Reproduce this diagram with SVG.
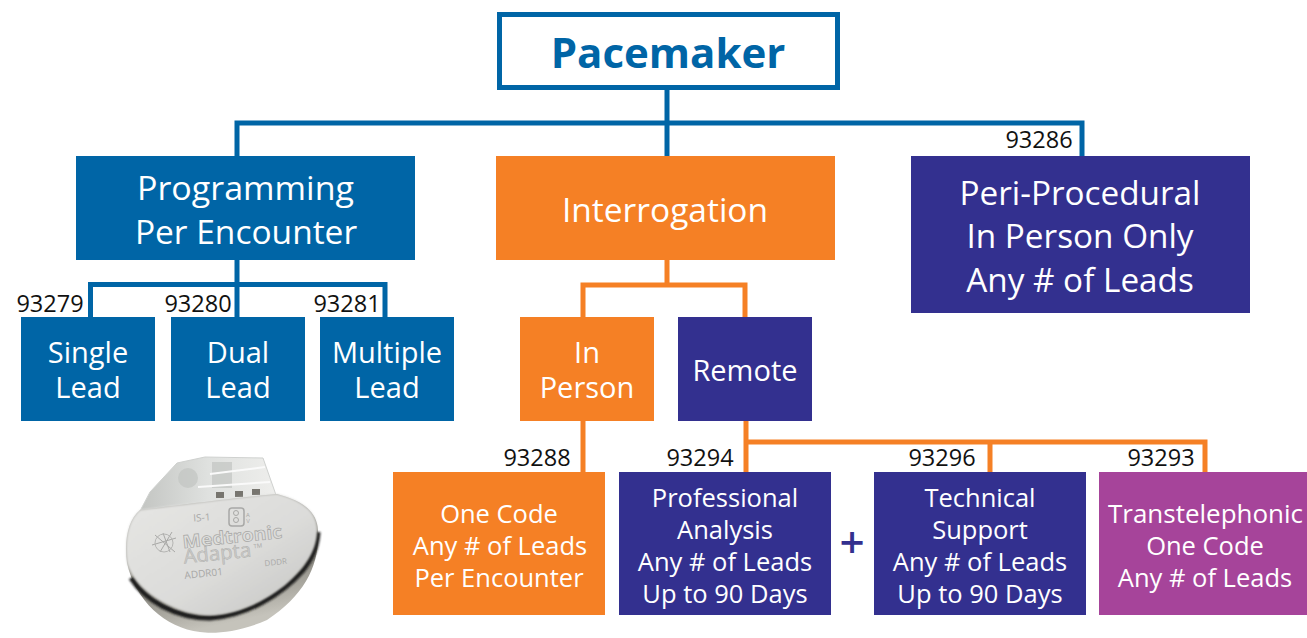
<svg xmlns="http://www.w3.org/2000/svg" width="1307" height="638" viewBox="0 0 1307 638">
<defs>
<linearGradient id="metal" x1="0" y1="0" x2="1" y2="1"><stop offset="0" stop-color="#e6e6e4"/><stop offset="0.55" stop-color="#dcdcda"/><stop offset="1" stop-color="#c4c4c2"/></linearGradient>
<linearGradient id="rim" x1="0" y1="0" x2="0.3" y2="1"><stop offset="0" stop-color="#b9b9b5"/><stop offset="0.7" stop-color="#8f8d85"/><stop offset="1" stop-color="#c5c3bb"/></linearGradient>
<linearGradient id="head" x1="0" y1="0" x2="1" y2="0"><stop offset="0" stop-color="#c3c5c2"/><stop offset="0.5" stop-color="#dfe1df"/><stop offset="1" stop-color="#eeeeec"/></linearGradient>
<filter id="soft" x="-10%" y="-10%" width="120%" height="120%"><feGaussianBlur stdDeviation="1"/></filter>
</defs>
<style>
text{font-family:"Open Sans","Noto Sans","Liberation Sans",sans-serif;text-anchor:middle;fill:#fff}
.l{font-size:33.500px}.x{font-size:33.300px}.s{font-size:29px}.t{font-size:25.500px}
.b{fill:#0065a6}.o{fill:#f58025}.p{fill:#33308f}.m{fill:#a6449a}
text.code{fill:#111;font-size:23.500px}
text.d{fill:#a8a8a6;font-size:10px}
.cb,.co{fill:none;stroke-width:5}.cb{stroke:#0065a6}.co{stroke:#f58025}
</style>
<rect width="1307" height="638" fill="#fff"/>
<g id="connectors">
<path class="cb" d="M667 88V156M237 156V123H1082V156"/>
<path class="cb" d="M237 260V285M90.500 317V284.500H385V317M237 285V317"/>
<path class="co" d="M667 260V285M583 317V285H745V317"/>
<path class="co" d="M583 421V472"/>
<path class="co" d="M746 421V472M746 442H1205V472M990 442V472"/>
</g>
<g id="pacemaker"><rect x="499.500" y="14.500" width="338" height="73" fill="#fff" stroke="#0065a6" stroke-width="5"/><text x="668" y="68" style="font-size:42px;font-weight:700;fill:#0065a6">Pacemaker</text></g>
<g id="programming"><rect class="b" x="76" y="156" width="339" height="104"/><text class="l" x="245.500" y="200" textLength="217" lengthAdjust="spacingAndGlyphs">Programming</text><text class="l" x="246" y="244">Per Encounter</text></g>
<g id="interrogation"><rect class="o" x="496" y="156" width="339" height="104"/><text class="l" x="665" y="222">Interrogation</text></g>
<g id="periprocedural"><rect class="p" x="911" y="156" width="339" height="157"/><text class="x" x="1080" y="205">Peri-Procedural</text><text class="x" x="1080" y="248">In Person Only</text><text class="x" x="1080" y="292">Any # of Leads</text></g>
<g id="single"><rect class="b" x="21" y="317" width="134" height="104"/><text class="s" x="88" y="363">Single</text><text class="s" x="88" y="398">Lead</text></g>
<g id="dual"><rect class="b" x="171" y="317" width="134" height="104"/><text class="s" x="238" y="363">Dual</text><text class="s" x="238" y="398">Lead</text></g>
<g id="multiple"><rect class="b" x="320" y="317" width="134" height="104"/><text class="s" x="387" y="363">Multiple</text><text class="s" x="387" y="398">Lead</text></g>
<g id="inperson"><rect class="o" x="520" y="317" width="134" height="104"/><text class="s" x="587" y="363">In</text><text class="s" x="587" y="398">Person</text></g>
<g id="remote"><rect class="p" x="678" y="317" width="134" height="104"/><text class="s" x="745" y="381">Remote</text></g>
<g id="onecode"><rect class="o" x="393" y="472" width="212" height="143"/><text class="t" x="499" y="523">One Code</text><text class="t" x="500" y="555">Any # of Leads</text><text class="t" x="499" y="587">Per Encounter</text></g>
<g id="professional"><rect class="p" x="619" y="472" width="212" height="143"/><text class="t" x="725" y="507">Professional</text><text class="t" x="725" y="539">Analysis</text><text class="t" x="725" y="571">Any # of Leads</text><text class="t" x="725" y="603">Up to 90 Days</text></g>
<g id="technical"><rect class="p" x="874" y="472" width="212" height="143"/><text class="t" x="980" y="507">Technical</text><text class="t" x="980" y="539">Support</text><text class="t" x="980" y="571">Any # of Leads</text><text class="t" x="980" y="603">Up to 90 Days</text></g>
<g id="transtelephonic"><rect class="m" x="1099" y="472" width="212" height="143"/><text class="t" x="1205.500" y="523" textLength="195" lengthAdjust="spacingAndGlyphs">Transtelephonic</text><text class="t" x="1205" y="555">One Code</text><text class="t" x="1205" y="587">Any # of Leads</text></g>
<g id="labels">
<text class="code" x="1039" y="148">93286</text>
<text class="code" x="50" y="312">93279</text>
<text class="code" x="198" y="312">93280</text>
<text class="code" x="347" y="312">93281</text>
<text class="code" x="537" y="466">93288</text>
<text class="code" x="700" y="466">93294</text>
<text class="code" x="942" y="466">93296</text>
<text class="code" x="1161" y="466">93293</text>
<text x="852" y="558" style="font-size:44px;font-weight:600;fill:#33308f">+</text>
</g>
<g id="device">
<path d="M140 511L150 492L177 463L205 457L263 458L276 495Z" fill="url(#head)" stroke="#cfd1cf"/>
<path d="M212 462H232V488H212ZM178 478a10 10 0 1 0 20 0a10 10 0 1 0 -20 0Z" fill="#c2c4c2" opacity=".7"/>
<path d="M216 492h8v6h-8zM235 491h8v6h-8zM252 489h8v6h-8z" fill="#77756f"/>
<path d="M210 474L265 467M198 487L270 482" stroke="#fafafa" stroke-width="2" fill="none"/>
<path d="M127 563C124 540 128 520 140 510C180 505 240 497 277 494C300 500 317 510 318 530C320 565 305 595 267 620C240 632 215 634 200 632C165 628 135 600 127 563Z" fill="url(#rim)"/>
<path d="M131 578C145 600 175 618 210 618C245 616 280 596 303 570C312 558 317 548 318 532" fill="none" stroke="#1c1c1a" stroke-width="5" filter="url(#soft)"/>
<path d="M127 563C124 540 128 520 140 510C180 505 240 497 277 494C300 500 317 510 317 530C317 550 305 568 285 585C258 606 230 616 205 615C170 612 135 590 127 563Z" fill="url(#metal)" filter="url(#soft)"/>
<text class="d" x="202" y="521" transform="rotate(-4 202 521)">IS-1</text>
<rect x="229" y="508" width="15" height="18" rx="3" fill="none" stroke="#a8a8a6" stroke-width="1.500"/>
<circle cx="236" cy="513" r="2.500" fill="none" stroke="#a8a8a6"/><circle cx="236" cy="520" r="2.500" fill="none" stroke="#a8a8a6"/>
<text class="d" x="248" y="517" style="font-size:6px">A</text><text class="d" x="248" y="523" style="font-size:6px">V</text>
<path d="M152 545L176 538M163 533L170 552M155 535L175 552M172 532L160 552" stroke="#a8a8a6" fill="none"/>
<circle cx="164" cy="543" r="9" fill="none" stroke="#b5b5b3"/>
<text x="233" y="543" transform="rotate(-6 233 543)" textLength="100" lengthAdjust="spacingAndGlyphs" style="font-size:18px;font-weight:700;fill:none;stroke:#a8a8a6;stroke-width:.7">Medtronic</text>
<text x="218" y="560" transform="rotate(-6 218 560)" textLength="68" lengthAdjust="spacingAndGlyphs" style="font-size:20px;fill:#cbcbc9;stroke:#a8a8a6;stroke-width:.4">Adapta</text>
<text class="d" x="258" y="548" style="font-size:6px" transform="rotate(-6 258 548)">TM</text>
<text class="d" x="204" y="577" transform="rotate(-6 204 577)">ADDR01</text>
<text class="d" x="276" y="565" style="font-size:8px" transform="rotate(-6 276 565)">DDDR</text>
</g>
</svg>
